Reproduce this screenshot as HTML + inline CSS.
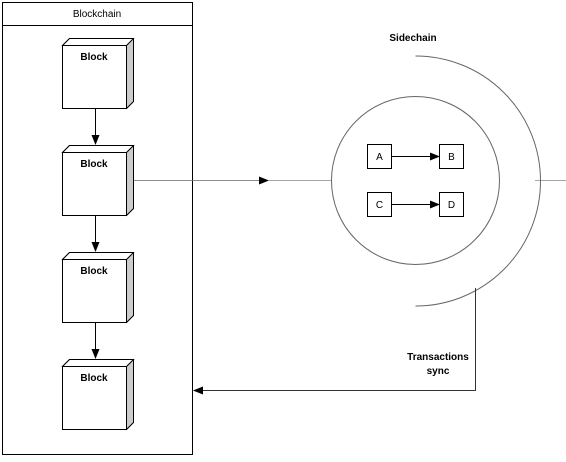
<!DOCTYPE html><html><head><style>body{margin:0;background:#fff}svg text{font-family:"Liberation Sans",sans-serif}</style></head><body>
<svg width="566" height="457" viewBox="0 0 566 457" xmlns="http://www.w3.org/2000/svg">
<defs><marker id="a" markerWidth="10" markerHeight="8" refX="9" refY="4" orient="auto" markerUnits="userSpaceOnUse"><path d="M0,0 L10,4 L0,8Z" fill="#000"/></marker></defs>
<rect x="2.5" y="2.5" width="190" height="452" fill="#fff" stroke="#000"/>
<line x1="2.5" y1="25.5" x2="192.5" y2="25.5" stroke="#000"/>
<text x="97" y="17" font-size="10" text-anchor="middle">Blockchain</text>
<g stroke="#000" stroke-width="1">
<g id="b"><path d="M62.5,45.5 L69.5,38.5 L133.5,38.5 L133.5,101.5 L126.5,108.5Z" fill="#ccc"/><path d="M62.5,45.5 L69.5,38.5 L133.5,38.5 L126.5,45.5Z" fill="#fff"/><rect x="62.5" y="45.5" width="64" height="63" fill="#fff"/></g>
<use href="#b" y="107"/><use href="#b" y="214"/><use href="#b" y="321"/>
<line x1="95.5" y1="108" x2="95.5" y2="144" marker-end="url(#a)"/>
<line x1="95.5" y1="215" x2="95.5" y2="251" marker-end="url(#a)"/>
<line x1="95.5" y1="322" x2="95.5" y2="358" marker-end="url(#a)"/>
</g>
<g font-size="10" font-weight="bold" text-anchor="middle"><text x="94" y="60">Block</text><text x="94" y="167">Block</text><text x="94" y="274">Block</text><text x="94" y="381">Block</text></g>
<line x1="134" y1="180.5" x2="268" y2="180.5" stroke="#666" stroke-width="0.8" marker-end="url(#a)"/>
<line x1="268" y1="180.5" x2="332" y2="180.5" stroke="#888" stroke-width="0.8"/>
<line x1="535" y1="180.5" x2="566" y2="180.5" stroke="#888" stroke-width="0.8"/>
<circle cx="415.5" cy="180.5" r="84" fill="none" stroke="#666"/>
<path d="M415.5,56 A125,125 0 0 1 415.5,306" fill="none" stroke="#666"/>
<text x="413" y="41" font-size="10" font-weight="bold" text-anchor="middle">Sidechain</text>
<g stroke="#000" fill="#fff"><rect x="367.5" y="144.5" width="24" height="24"/><rect x="439.5" y="144.5" width="24" height="24"/><rect x="367.5" y="192.5" width="24" height="24"/><rect x="439.5" y="192.5" width="24" height="24"/>
<line x1="391.5" y1="156.5" x2="439" y2="156.5" marker-end="url(#a)"/><line x1="391.5" y1="204.5" x2="439" y2="204.5" marker-end="url(#a)"/></g>
<g font-size="10" text-anchor="middle"><text x="379.5" y="160">A</text><text x="451.5" y="160">B</text><text x="379.5" y="208">C</text><text x="451.5" y="208">D</text></g>
<polyline points="475.5,288 475.5,390.5 194,390.5" fill="none" stroke="#333" marker-end="url(#a)"/>
<g font-size="10" font-weight="bold" text-anchor="middle"><text x="438" y="360">Transactions</text><text x="438" y="374">sync</text></g>
</svg></body></html>
